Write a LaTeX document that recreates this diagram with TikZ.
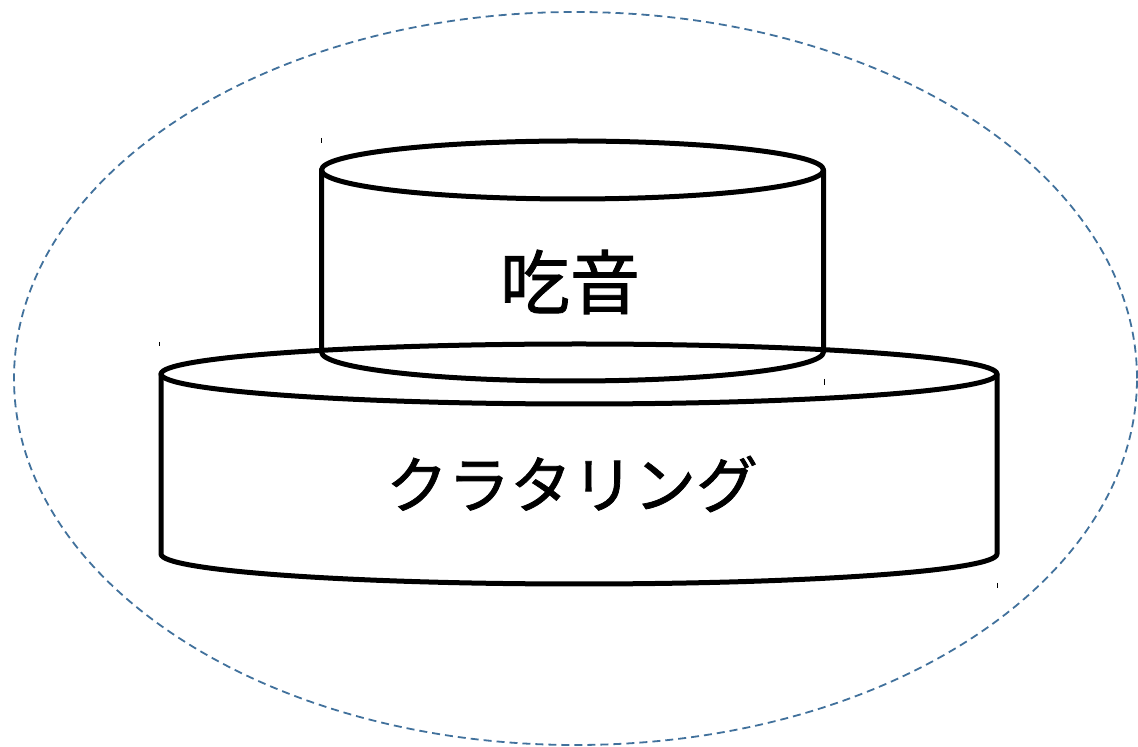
\documentclass[tikz,border=0pt]{standalone}
\usepackage{fontspec}
\newfontfamily\jp[FakeBold=1.2]{Noto Sans CJK JP}
\definecolor{dashblue}{HTML}{41719C}
\begin{document}
\begin{tikzpicture}[x=1pt,y=1pt,
  body/.style={line width=5pt,black,line join=round,line cap=round},
  outerline/.style={dashblue,line width=1.8pt,dash pattern=on 8pt off 5pt},
  tick/.style={line width=1pt,black},
  label/.style={font=\jp\fontsize{62pt}{62pt}\selectfont,inner sep=0pt}]
\useasboundingbox (0,0) rectangle (1138,747);
% outer dashed ellipse
\draw[outerline] (575.5,368.5) ellipse [x radius=561.5, y radius=366.5];
% lower cylinder
\draw[body] (579,373) ellipse [x radius=418, y radius=30];
\draw[body] (161,373) -- (161,193) arc[start angle=180, end angle=360, x radius=418, y radius=30] -- (997,373);
% upper cylinder
\draw[body] (572.5,577) ellipse [x radius=251, y radius=29];
\draw[body] (321.5,577) -- (321.5,395) arc[start angle=180, end angle=360, x radius=251, y radius=29] -- (823.5,577);
% small handle ticks
\draw[tick] (321,609) -- (321,604);
\draw[tick] (159,405) -- (159,401);
\draw[tick] (824,368) -- (824,362);
\draw[tick] (997,164) -- (997,159);
% labels
\node[label,font=\jp\fontsize{70pt}{70pt}\selectfont] (upper) at (570,465) {吃音};
\node[label] (lower) at (572,263) {クラタリング};
\end{tikzpicture}
\end{document}
